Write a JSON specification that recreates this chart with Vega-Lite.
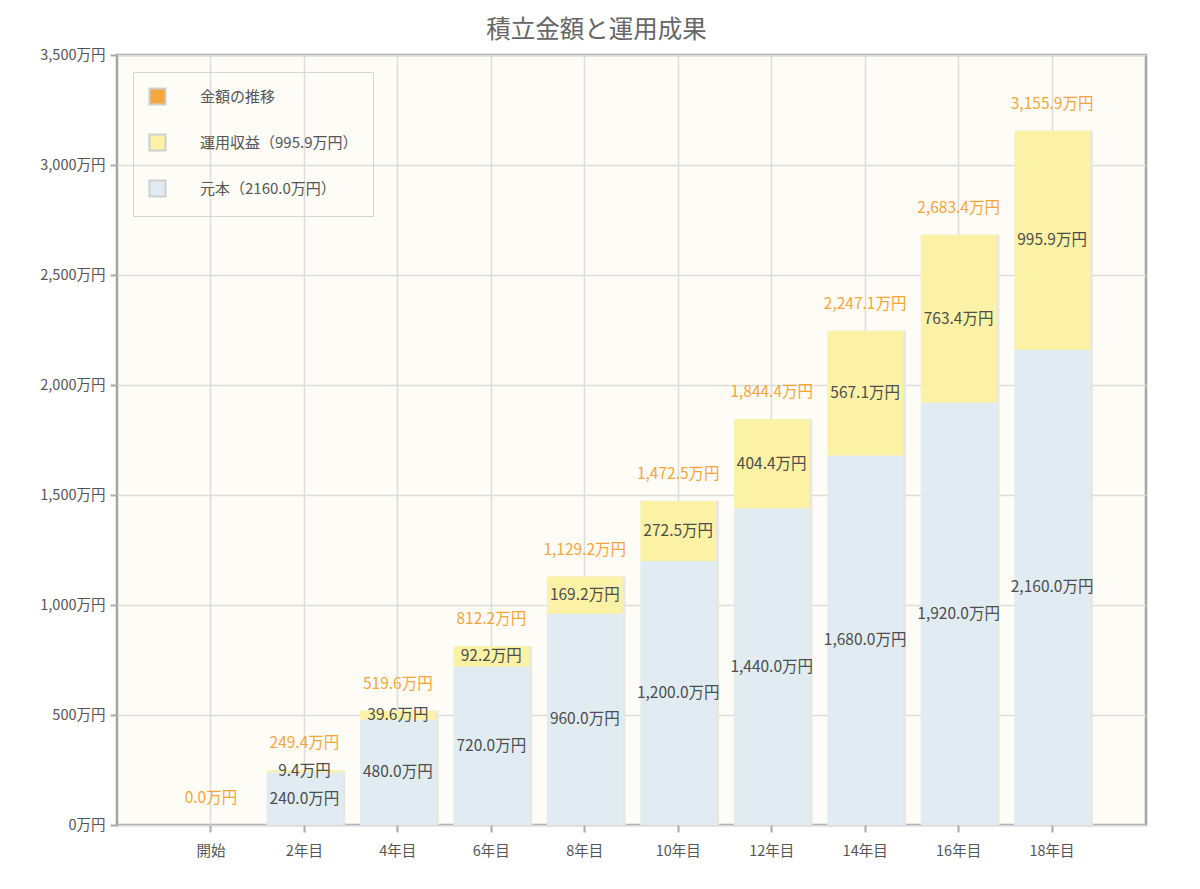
{
  "$schema": "https://vega.github.io/schema/vega-lite/v6.json",
  "autosize": {"type": "none"},
  "width": 1029,
  "height": 770,
  "padding": {"left": 117, "top": 55, "right": 54, "bottom": 64},
  "background": "white",
  "title": {"text": "積立金額と運用成果", "fontSize": 24.5, "font": "Noto Sans CJK JP", "fontWeight": "normal", "color": "#666666", "anchor": "middle", "frame": "group", "offset": 4, "dx": -35},
  "config": {
    "view": {"fill": "#fdfcf7", "stroke": "#a5a5a5", "strokeWidth": 2.5},
    "font": "Noto Sans CJK JP"
  },
  "data": {
    "values": [
      {"year": "開始", "part": "元本", "value": 0},
      {"year": "開始", "part": "運用収益", "value": 0},
      {"year": "2年目", "part": "元本", "value": 240.0},
      {"year": "2年目", "part": "運用収益", "value": 9.4},
      {"year": "4年目", "part": "元本", "value": 480.0},
      {"year": "4年目", "part": "運用収益", "value": 39.6},
      {"year": "6年目", "part": "元本", "value": 720.0},
      {"year": "6年目", "part": "運用収益", "value": 92.2},
      {"year": "8年目", "part": "元本", "value": 960.0},
      {"year": "8年目", "part": "運用収益", "value": 169.2},
      {"year": "10年目", "part": "元本", "value": 1200.0},
      {"year": "10年目", "part": "運用収益", "value": 272.5},
      {"year": "12年目", "part": "元本", "value": 1440.0},
      {"year": "12年目", "part": "運用収益", "value": 404.4},
      {"year": "14年目", "part": "元本", "value": 1680.0},
      {"year": "14年目", "part": "運用収益", "value": 567.1},
      {"year": "16年目", "part": "元本", "value": 1920.0},
      {"year": "16年目", "part": "運用収益", "value": 763.4},
      {"year": "18年目", "part": "元本", "value": 2160.0},
      {"year": "18年目", "part": "運用収益", "value": 995.9}
    ]
  },
  "transform": [
    {"stack": "value", "groupby": ["year"], "sort": [{"field": "part", "order": "ascending"}], "as": ["v0", "v1"]},
    {"calculate": "(datum.v0 + datum.v1) / 2", "as": "mid"},
    {"calculate": "format(datum.value, ',.1f') + '万円'", "as": "label"},
    {"calculate": "format(datum.v1, ',.1f') + '万円'", "as": "totalLabel"}
  ],
  "encoding": {
    "x": {
      "field": "year",
      "type": "nominal",
      "sort": ["開始", "2年目", "4年目", "6年目", "8年目", "10年目", "12年目", "14年目", "16年目", "18年目"],
      "scale": {"paddingInner": 0.19, "paddingOuter": 0.6},
      "axis": {
        "title": null, "labelAngle": 0, "grid": true, "gridColor": "#dcdcdc", "gridWidth": 1.5,
        "domain": false, "ticks": true, "tickColor": "#aaaaaa", "tickSize": 7, "tickWidth": 2,
        "labelColor": "#555555", "labelFontSize": 14.5, "labelPadding": 12, "bandPosition": 0.5
      }
    }
  },
  "layer": [
    {
      "mark": {"type": "bar", "color": "#e8e7e2", "xOffset": 3},
      "encoding": {
        "y": {"field": "v1", "type": "quantitative"},
        "y2": {"field": "v0"}
      }
    },
    {
      "mark": {"type": "bar"},
      "encoding": {
        "y": {
          "field": "v1", "type": "quantitative",
          "scale": {"domain": [0, 3500]},
          "axis": {
            "title": null, "values": [0, 500, 1000, 1500, 2000, 2500, 3000, 3500],
            "labelExpr": "format(datum.value, ',') + '万円'",
            "grid": true, "gridColor": "#dcdcdc", "gridWidth": 1.5, "domain": false,
            "tickColor": "#aaaaaa", "tickSize": 7, "tickWidth": 2,
            "labelColor": "#555555", "labelFontSize": 14.5, "labelPadding": 5
          }
        },
        "y2": {"field": "v0"},
        "color": {
          "field": "part", "type": "nominal",
          "scale": {"domain": ["金額の推移", "運用収益", "元本"], "range": ["#f4a73c", "#fbf2a5", "#e0ecf2"]},
          "legend": {
            "title": null, "orient": "none", "legendX": 16, "legendY": 17,
            "strokeColor": "#d5d5d5", "padding": 15,
            "symbolType": "square", "symbolSize": 260, "symbolStrokeColor": "#cfcfcf", "symbolStrokeWidth": 2,
            "symbolOpacity": 1,
            "labelFontSize": 15, "labelColor": "#555555", "labelOffset": 33, "rowPadding": 21, "labelLimit": 400,
            "labelExpr": "datum.label == '運用収益' ? '運用収益（995.9万円）' : datum.label == '元本' ? '元本（2160.0万円）' : datum.label"
          }
        }
      }
    },
    {
      "transform": [{"filter": "datum.value > 0"}],
      "mark": {"type": "text", "color": "#4d4d4d", "fontSize": 15.5, "baseline": "middle"},
      "encoding": {
        "y": {"field": "mid", "type": "quantitative"},
        "text": {"field": "label"}
      }
    },
    {
      "transform": [{"filter": "datum.part == '運用収益'"}],
      "mark": {"type": "text", "color": "#f4a53a", "fontSize": 15.5, "baseline": "middle", "dy": -27},
      "encoding": {
        "y": {"field": "v1", "type": "quantitative"},
        "text": {"field": "totalLabel"}
      }
    }
  ]
}
